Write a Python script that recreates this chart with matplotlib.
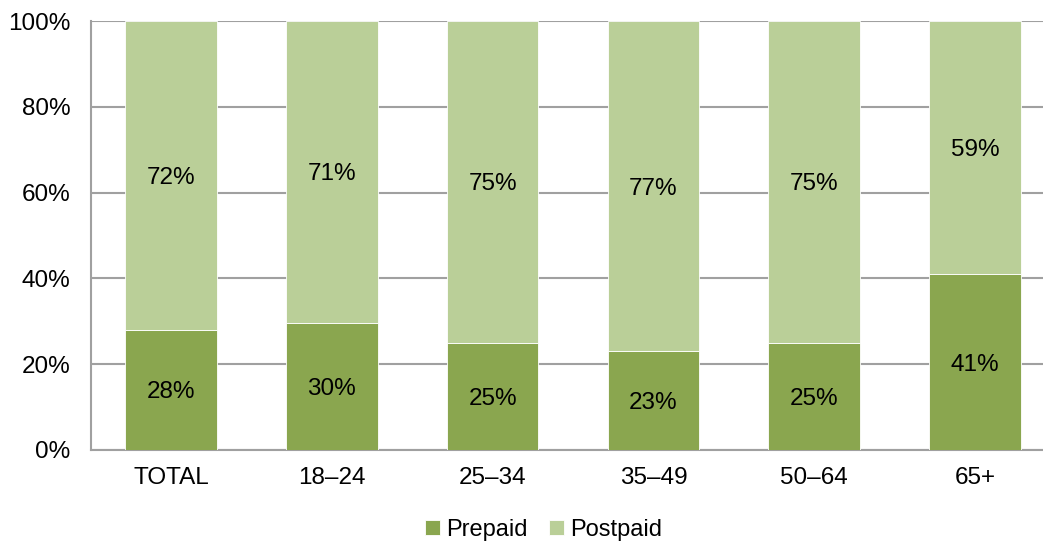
import numpy as np
import matplotlib
matplotlib.use("Agg")
from matplotlib import pyplot as plt

categories = ["TOTAL", "18\u201324", "25\u201334", "35\u201349", "50\u201364", "65+"]
prepaid = [28, 30, 25, 23, 25, 41]
postpaid = [72, 71, 75, 77, 75, 59]

plt.rcParams['font.family'] = ['Liberation Sans', 'DejaVu Sans']

pre = np.array(prepaid, dtype=float)
post = np.array(postpaid, dtype=float)
total = pre + post
# 100% stacked: each bar normalised to its own sum
pre_share = pre / total * 100
post_share = post / total * 100

fig = plt.figure(figsize=(10.43, 5.46), dpi=100)
ax = fig.add_axes([91 / 1043, 96 / 546, (1043 - 91) / 1043, 429 / 546])

x = np.arange(len(categories))
c_pre = "#8AA64F"
c_post = "#BACF98"
fs = 17.5

b1 = ax.bar(x, pre_share, width=0.57, color=c_pre, edgecolor="white", linewidth=0.6,
            label="Prepaid", zorder=3)
b2 = ax.bar(x, post_share, width=0.57, bottom=pre_share, color=c_post, edgecolor="white",
            linewidth=0.6, label="Postpaid", zorder=3)

for i in range(len(categories)):
    ax.text(x[i], pre_share[i] / 2, f"{prepaid[i]}%", ha="center", va="center_baseline",
            fontsize=fs, zorder=4)
    ax.text(x[i], pre_share[i] + post_share[i] / 2, f"{postpaid[i]}%", ha="center",
            va="center_baseline", fontsize=fs, zorder=4)

ax.set_ylim(0, 100)
ax.set_xlim(-0.4975, (1043 - 171) / 160.8)
ax.set_yticks(np.arange(0, 101, 20))
ax.set_yticklabels([f"{v}%" for v in range(0, 101, 20)])
ax.set_xticks(x)
ax.set_xticklabels(categories)
ax.tick_params(axis="both", length=0, labelsize=fs)
ax.tick_params(axis="y", pad=15)
ax.tick_params(axis="x", pad=12)
ax.yaxis.grid(True, color="#A0A0A0", linewidth=1.5, zorder=0)
ax.set_axisbelow(True)

for s in ["top", "right"]:
    ax.spines[s].set_visible(False)
for s in ["left", "bottom"]:
    ax.spines[s].set_color("#A0A0A0")
    ax.spines[s].set_linewidth(1.5)

leg = fig.legend(handles=[b1, b2], loc="center", bbox_to_anchor=(544 / 1043, 1 - 530 / 546),
                 ncol=2, frameon=False, fontsize=17, handlelength=0.6, handleheight=0.6,
                 handletextpad=0.3, columnspacing=0.9)

fig.savefig("out.png", dpi=100)
